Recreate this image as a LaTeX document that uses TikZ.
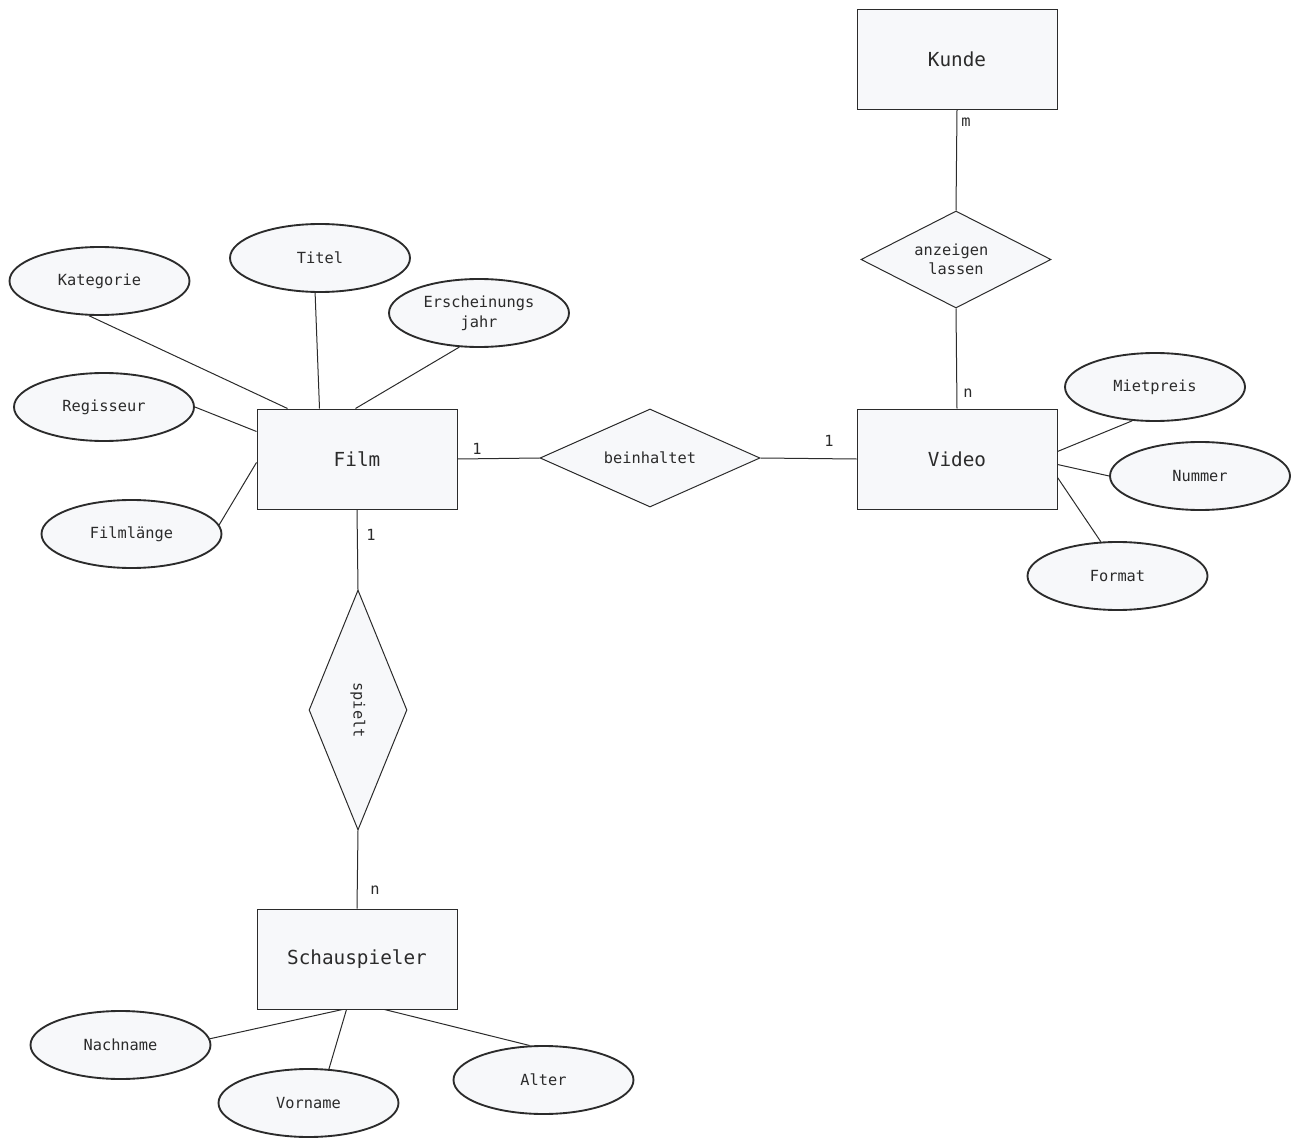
\documentclass[tikz,border=0pt]{standalone}
\usepackage{fontspec}
\setmonofont{DejaVu Sans Mono}
\usetikzlibrary{shapes.geometric,calc}
\definecolor{boxfill}{HTML}{F7F8FA}
\definecolor{ink}{HTML}{2B2B2B}
\begin{document}
\begin{tikzpicture}[x=0.75pt,y=-0.75pt,
  every node/.style={text=ink},
  entity/.style={draw=ink,fill=boxfill,line width=0.75pt,rectangle,minimum width=150pt,minimum height=75pt,inner sep=0pt,font=\ttfamily\fontsize{14.5}{17}\selectfont},
  attr/.style={draw=ink,fill=boxfill,line width=1.4pt,ellipse,minimum width=135pt,minimum height=51pt,inner sep=0pt,align=center,font=\ttfamily\fontsize{11.5}{15}\selectfont},
  rel/.style={draw=ink,fill=boxfill,line width=0.75pt,diamond,inner sep=0pt},
  rellabel/.style={inner sep=0pt,align=center,font=\ttfamily\fontsize{11.5}{14.5}\selectfont},
  card/.style={inner sep=0pt,font=\ttfamily\fontsize{11.5}{14}\selectfont},
  conn/.style={draw=ink,line width=0.75pt}]
\useasboundingbox (0,0) rectangle (1300,1148);

% entities
\node[entity] (kunde) at (957,59.5) {Kunde};
\node[entity] (video) at (957,459) {Video};
\node[entity] (film) at (357,459) {Film};
\node[entity] (schau) at (357,959) {Schauspieler};

% relationships
\node[rel,minimum width=142.5pt,minimum height=72.75pt] (anz) at (956,259.5) {};
\node[rellabel] (anzlabel) at (anz) {anzeigen\hphantom{x}\\lassen};
\node[rel,minimum width=165pt,minimum height=73.5pt] (bein) at (650,458) {};
\node[rellabel] (beinlabel) at (bein) {beinhaltet};
\node[rel,minimum width=73.5pt,minimum height=180pt] (spielt) at (358,710) {};
\node[rellabel,rotate=-90] (spieltlabel) at (spielt) {spielt};

% attributes
\node[attr] (kat) at (99.5,281) {Kategorie};
\node[attr] (titel) at (320,258) {Titel};
\node[attr] (ersch) at (479,313) {Erscheinungs\\jahr};
\node[attr] (regie) at (104,407) {Regisseur};
\node[attr] (laenge) at (131.5,534) {Filmlänge};
\node[attr] (miet) at (1155,387) {Mietpreis};
\node[attr] (nummer) at (1200,476) {Nummer};
\node[attr] (format) at (1117.5,576) {Format};
\node[attr] (nach) at (120.5,1045) {Nachname};
\node[attr] (vor) at (308.5,1103) {Vorname};
\node[attr] (alter) at (543.5,1080) {Alter};

% attribute connectors
\draw[conn] (kat.253) -- ($(film.north west)+(31,0)$);
\draw[conn] (titel.262) -- ($(film.north west)+(63,0)$);
\draw[conn] (ersch.240) -- ($(film.north west)+(99,0)$);
\draw[conn] (regie.0) -- ($(film.north west)+(0,23)$);
\draw[conn] (laenge.6) -- ($(film.north west)+(0,54)$);
\draw[conn] (miet.236) -- ($(video.north east)+(0,43)$);
\draw[conn] (nummer.180) -- ($(video.north east)+(0,56)$);
\draw[conn] (format.116) -- ($(video.north east)+(0,69)$);
\draw[conn] (nach.4) -- ($(schau.south west)+(86,0)$);
\draw[conn] (vor.59) -- ($(schau.south west)+(90,0)$);
\draw[conn] (alter.112) -- ($(schau.south west)+(128,0)$);

% relationship connectors
\draw[conn] (film.east) -- (bein.west);
\draw[conn] (bein.east) -- (video.west);
\draw[conn] (film.south) -- (spielt.north);
\draw[conn] (spielt.south) -- (schau.north);
\draw[conn] (kunde.south) -- (anz.north);
\draw[conn] (anz.south) -- (video.north);

% cardinalities
\node[card] (c1) at (477,449) {1};
\node[card] (c2) at (829,441) {1};
\node[card] (c3) at (371,535) {1};
\node[card] (c4) at (375,890) {n};
\node[card] (c5) at (966,122) {m};
\node[card] (c6) at (968,393) {n};
\end{tikzpicture}
\end{document}
